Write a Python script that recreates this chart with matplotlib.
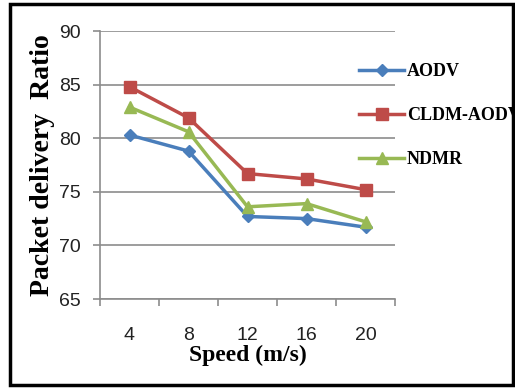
import matplotlib
matplotlib.use("Agg")
import matplotlib.pyplot as plt
from matplotlib.patches import Rectangle
from matplotlib.ticker import FixedLocator

speeds = ["4", "8", "12", "16", "20"]
aodv = [80.3, 78.8, 72.7, 72.5, 71.7]
cldm_aodv = [84.8, 81.9, 76.7, 76.2, 75.2]
ndmr = [82.9, 80.6, 73.6, 73.9, 72.2]
y_ticks = [65, 70, 75, 80, 85, 90]

BLUE = "#4A7EBB"
RED = "#BE4B48"
GREEN = "#98B954"
GRID = "#8C8C8C"
SERIF = "Liberation Serif"
SANS = "Liberation Sans"

fig = plt.figure(figsize=(5.15, 3.89), dpi=100)
ax = fig.add_axes([100 / 515, 1 - 299 / 389, 295 / 515, 268 / 389])

x = range(1, len(speeds) + 1)
ax.plot(x, aodv, color=BLUE, lw=2.5, marker="D", ms=6.5, label="AODV", zorder=3)
ax.plot(x, cldm_aodv, color=RED, lw=2.5, marker="s", ms=8, label="CLDM-AODV", zorder=3)
ax.plot(x, ndmr, color=GREEN, lw=2.5, marker="^", ms=8.5, label="NDMR", zorder=3)

ax.set_xlim(0.5, len(speeds) + 0.5)
ax.set_ylim(65, 90)
ax.set_yticks(y_ticks)
ax.set_xticks(list(x))
ax.set_xticklabels(speeds)
ax.xaxis.set_minor_locator(FixedLocator([i + 0.5 for i in range(len(speeds) + 1)]))
ax.tick_params(axis="x", which="major", length=0, pad=20)
ax.tick_params(axis="x", which="minor", length=5, width=1.2, color=GRID)
ax.tick_params(axis="y", length=5, width=1.2, color=GRID, pad=9)
for lab in ax.get_xticklabels() + ax.get_yticklabels():
    lab.set_fontfamily(SANS)
    lab.set_fontsize(14)
    lab.set_color("#222222")

ax.grid(axis="y", color=GRID, lw=1.2)
ax.set_axisbelow(True)
for s in ["top", "right"]:
    ax.spines[s].set_visible(False)
for s in ["left", "bottom"]:
    ax.spines[s].set_color(GRID)
    ax.spines[s].set_linewidth(1.2)

ax.set_xlabel("Speed (m/s)", fontfamily=SERIF, fontweight="bold", fontsize=17, labelpad=1)
ax.set_ylabel("Packet delivery  Ratio", fontfamily=SERIF, fontweight="bold", fontsize=20, labelpad=3)

leg = ax.legend(loc="upper left", bbox_to_anchor=(352 / 515, 1 - 56 / 389),
                bbox_transform=fig.transFigure, frameon=False, handlelength=2.5,
                handletextpad=0.15, labelspacing=1.5, borderaxespad=0,
                prop={"family": SERIF, "weight": "bold", "size": 13})

fig.patches.append(Rectangle((10 / 515, 4 / 389), 503 / 515, 381 / 389,
                             transform=fig.transFigure, fill=False,
                             edgecolor="black", lw=2.5))

fig.savefig("out.png", dpi=100)
